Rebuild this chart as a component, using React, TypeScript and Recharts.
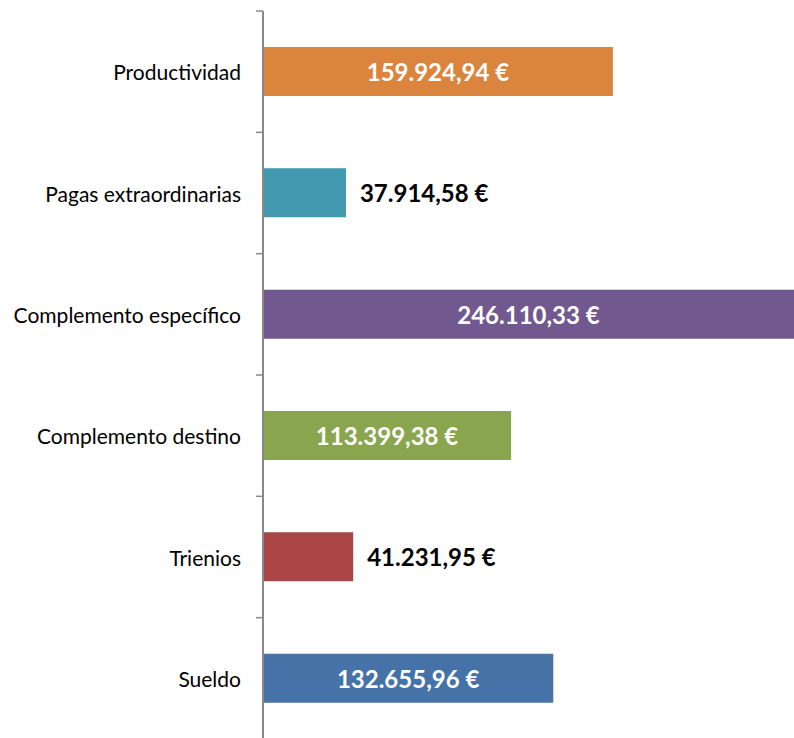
import React from "react";
import { BarChart, Bar, XAxis, YAxis, Cell, LabelList } from "recharts";

const categories = [
  "Productividad",
  "Pagas extraordinarias",
  "Complemento específico",
  "Complemento destino",
  "Trienios",
  "Sueldo",
];
const values = [159924.94, 37914.58, 246110.33, 113399.38, 41231.95, 132655.96];
const colors = ["#DB843D", "#4198AF", "#71588F", "#89A54E", "#AA4643", "#4572A7"];
const insideLabel = [true, false, true, true, false, true];

const data = categories.map((name, i) => ({
  name,
  value: values[i],
  color: colors[i],
  inside: insideLabel[i],
}));

const fmt = (v: number) => {
  const [int, dec] = v.toFixed(2).split(".");
  return int.replace(/\B(?=(\d{3})+(?!\d))/g, ".") + "," + dec + " €";
};

const FONT = "Lato, 'Open Sans', sans-serif";
const AXIS_COLOR = "#898989";

const ValueLabel = (props: any) => {
  const { x, y, width, height, index } = props;
  const d = data[index];
  const visibleW = Math.min(width, 794 - x);
  const cy = y + height / 2;
  if (d.inside) {
    return (
      <text x={x + visibleW / 2} y={cy} textAnchor="middle" dominantBaseline="central"
        fill="#FFFFFF" fontWeight="bold" fontSize={24} fontFamily={FONT}>
        {fmt(d.value)}
      </text>
    );
  }
  return (
    <text x={x + width + 14} y={cy} textAnchor="start" dominantBaseline="central"
      fill="#000000" fontWeight="bold" fontSize={24} fontFamily={FONT}>
      {fmt(d.value)}
    </text>
  );
};

const CategoryTick = (props: any) => {
  const { x, y, payload, index, visibleTicksCount } = props;
  const half = payload && payload.offset ? payload.offset : 61;
  const axisX = x + 16;
  const isLast = index === (visibleTicksCount ?? 6) - 1;
  return (
    <g>
      <line x1={axisX - 7} x2={axisX} y1={y - half} y2={y - half} stroke={AXIS_COLOR} strokeWidth={1.5} />
      {isLast && (
        <line x1={axisX - 7} x2={axisX} y1={y + half} y2={y + half} stroke={AXIS_COLOR} strokeWidth={1.5} />
      )}
      <text x={x - 6} y={y} textAnchor="end" dominantBaseline="central" fill="#000" fontSize={21} fontFamily={FONT}>
        {payload.value}
      </text>
    </g>
  );
};

export default function App() {
  return (
    <div style={{ position: "fixed", left: 0, top: 0, width: 794, height: 738, overflow: "hidden", background: "#fff" }}>
      <BarChart
        width={810}
        height={739}
        data={data}
        layout="vertical"
        margin={{ top: 11, right: 0, bottom: 0, left: 0 }}
        barSize={49}
      >
        <XAxis type="number" domain={[0, 250000]} hide />
        <YAxis
          type="category"
          dataKey="name"
          width={263}
          axisLine={{ stroke: AXIS_COLOR, strokeWidth: 2 }}
          tickLine={false}
          tickSize={6}
          tickMargin={10}
          tick={<CategoryTick />}
        />
        <Bar dataKey="value" isAnimationActive={false}>
          {data.map((d, i) => (
            <Cell key={i} fill={d.color} />
          ))}
          <LabelList dataKey="value" content={ValueLabel} />
        </Bar>
      </BarChart>
    </div>
  );
}
